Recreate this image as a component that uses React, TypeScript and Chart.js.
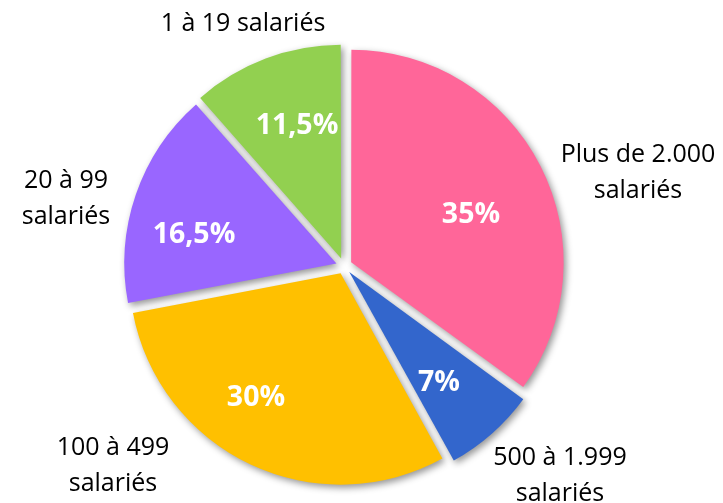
import React, { useEffect, useRef } from "react";
import { Chart, registerables } from "chart.js";

Chart.register(...registerables);

// ---- data ----
const categoryLines: string[][] = [
  ["Plus de 2.000", "salariés"],
  ["500 à 1.999", "salariés"],
  ["100 à 499", "salariés"],
  ["20 à 99", "salariés"],
  ["1 à 19 salariés"],
];
const shares: number[] = [35, 7, 30, 16.5, 11.5];
const sliceColors: string[] = ["#FF6699", "#3366CC", "#FFC000", "#9966FF", "#92D050"];

// ---- label placement (offsets from pie centre, px) ----
const nameOffsets: [number, number][] = [
  [294, -86],
  [216, 217],
  [-231, 207],
  [-278, -60],
  [-101, -235],
];
const pctOffsets: [number, number][] = [
  [127, -43],
  [95, 125],
  [-88, 140],
  [-150, -23],
  [-47, -132],
];

const NAME_FONT = "25px 'Open Sans'";
const PCT_FONT = "bold 28.5px 'Open Sans'";
const LINE_H = 36.5;

const fmtPct = (v: number) => String(v).replace(".", ",") + "%";

const labelPlugin = {
  id: "pieLabels",
  beforeDatasetsDraw(chart: any) {
    const ctx = chart.ctx;
    ctx.save();
    ctx.shadowColor = "rgba(0,0,0,0.42)";
    ctx.shadowBlur = 7;
    ctx.shadowOffsetX = 2.5;
    ctx.shadowOffsetY = 3;
  },
  afterDatasetsDraw(chart: any) {
    const ctx = chart.ctx;
    ctx.restore();
    const meta = chart.getDatasetMeta(0);
    ctx.save();
    ctx.textAlign = "center";
    ctx.textBaseline = "alphabetic";
    meta.data.forEach((arc: any, i: number) => {
      const cx = arc.x;
      const cy = arc.y;
      // category name
      const lines = categoryLines[i];
      ctx.font = NAME_FONT;
      ctx.fillStyle = "#000000";
      const [nx, ny] = nameOffsets[i];
      lines.forEach((ln, k) => {
        const y = cy + ny + (k - (lines.length - 1) / 2) * LINE_H;
        ctx.fillText(ln, cx + nx, y);
      });
      // percentage
      ctx.font = PCT_FONT;
      ctx.fillStyle = "#FFFFFF";
      const [px, py] = pctOffsets[i];
      ctx.fillText(fmtPct(shares[i]), cx + px, cy + py);
    });
    ctx.restore();
  },
};

export default function App() {
  const ref = useRef<HTMLCanvasElement | null>(null);

  useEffect(() => {
    document.body.style.margin = "0";
    const canvas = ref.current;
    if (!canvas) return;
    const chart = new Chart(canvas, {
      type: "pie",
      data: {
        labels: categoryLines,
        datasets: [
          {
            data: shares,
            backgroundColor: sliceColors,
            borderWidth: 0,
            offset: 32,
          },
        ],
      },
      options: {
        animation: false,
        responsive: false,
        devicePixelRatio: 1,
        radius: 211,
        layout: { padding: { left: 0, right: 35, top: 29, bottom: 0 } },
        plugins: {
          legend: { display: false },
          tooltip: { enabled: false },
        },
      } as any,
      plugins: [labelPlugin],
    });
    return () => chart.destroy();
  }, []);

  return (
    <div style={{ position: "absolute", left: 0, top: 0, width: 723, height: 503, background: "#fff" }}>
      <canvas ref={ref} width={723} height={503} style={{ display: "block" }} />
    </div>
  );
}
